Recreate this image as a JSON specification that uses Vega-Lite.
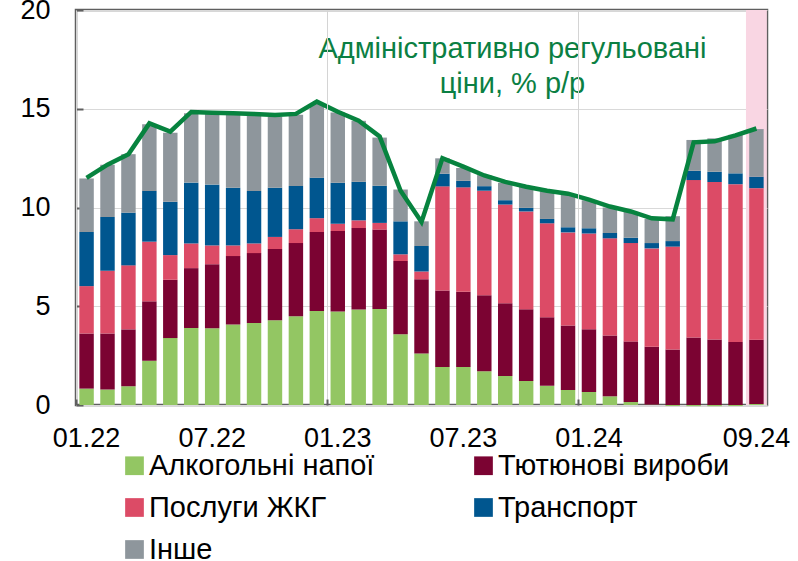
{
  "$schema": "https://vega.github.io/schema/vega-lite/v6.json",
  "width": 691,
  "height": 395,
  "autosize": {"type": "none"},
  "padding": {"left": 76, "top": 10, "right": 31, "bottom": 156},
  "background": "white",
  "config": {
    "view": {"stroke": "#5f5f5f", "strokeWidth": 2.5},
    "font": "Liberation Sans",
    "axis": {"labelFont": "Liberation Sans", "labelColor": "#000000"},
    "legend": {"labelFont": "Liberation Sans", "labelColor": "#000000"}
  },
  "datasets": {
    "main": [
      {"m": "01.22", "a": 0.83, "t": 2.79, "p": 2.40, "r": 2.74, "o": 2.71, "l": 11.5},
      {"m": "02.22", "a": 0.78, "t": 2.84, "p": 3.18, "r": 2.72, "o": 2.65, "l": 12.17},
      {"m": "03.22", "a": 0.95, "t": 2.88, "p": 3.24, "r": 2.67, "o": 2.96, "l": 12.7},
      {"m": "04.22", "a": 2.24, "t": 3.01, "p": 3.02, "r": 2.57, "o": 3.37, "l": 14.26},
      {"m": "05.22", "a": 3.39, "t": 2.95, "p": 1.25, "r": 2.70, "o": 3.50, "l": 13.84},
      {"m": "06.22", "a": 3.90, "t": 3.03, "p": 1.25, "r": 3.08, "o": 3.51, "l": 14.84},
      {"m": "07.22", "a": 3.88, "t": 3.25, "p": 0.95, "r": 3.08, "o": 3.61, "l": 14.8},
      {"m": "08.22", "a": 4.07, "t": 3.47, "p": 0.54, "r": 2.92, "o": 3.70, "l": 14.77},
      {"m": "09.22", "a": 4.15, "t": 3.54, "p": 0.49, "r": 2.66, "o": 3.83, "l": 14.74},
      {"m": "10.22", "a": 4.29, "t": 3.61, "p": 0.61, "r": 2.49, "o": 3.60, "l": 14.69},
      {"m": "11.22", "a": 4.49, "t": 3.71, "p": 0.70, "r": 2.19, "o": 3.60, "l": 14.74},
      {"m": "12.22", "a": 4.76, "t": 4.00, "p": 0.70, "r": 2.05, "o": 3.73, "l": 15.36},
      {"m": "01.23", "a": 4.73, "t": 4.08, "p": 0.37, "r": 2.07, "o": 3.56, "l": 14.85},
      {"m": "02.23", "a": 4.83, "t": 4.13, "p": 0.39, "r": 1.95, "o": 3.09, "l": 14.4},
      {"m": "03.23", "a": 4.86, "t": 4.02, "p": 0.34, "r": 1.88, "o": 2.44, "l": 13.6},
      {"m": "04.23", "a": 3.58, "t": 3.71, "p": 0.34, "r": 1.67, "o": 1.61, "l": 10.85},
      {"m": "05.23", "a": 2.61, "t": 3.76, "p": 0.39, "r": 1.29, "o": 1.25, "l": 9.27},
      {"m": "06.23", "a": 1.93, "t": 3.87, "p": 5.27, "r": 0.64, "o": 0.78, "l": 12.5},
      {"m": "07.23", "a": 1.93, "t": 3.81, "p": 5.28, "r": 0.33, "o": 0.65, "l": 12.07},
      {"m": "08.23", "a": 1.71, "t": 3.85, "p": 5.29, "r": 0.23, "o": 0.56, "l": 11.62},
      {"m": "09.23", "a": 1.47, "t": 3.68, "p": 5.00, "r": 0.22, "o": 0.88, "l": 11.3},
      {"m": "10.23", "a": 1.22, "t": 3.63, "p": 4.95, "r": 0.18, "o": 1.07, "l": 11.05},
      {"m": "11.23", "a": 0.97, "t": 3.47, "p": 4.76, "r": 0.22, "o": 1.41, "l": 10.85},
      {"m": "12.23", "a": 0.76, "t": 3.27, "p": 4.71, "r": 0.26, "o": 1.68, "l": 10.7},
      {"m": "01.24", "a": 0.66, "t": 3.17, "p": 4.85, "r": 0.27, "o": 1.42, "l": 10.4},
      {"m": "02.24", "a": 0.44, "t": 3.08, "p": 4.92, "r": 0.27, "o": 1.29, "l": 10.05},
      {"m": "03.24", "a": 0.15, "t": 3.07, "p": 4.98, "r": 0.27, "o": 1.31, "l": 9.8},
      {"m": "04.24", "a": 0.02, "t": 2.93, "p": 4.98, "r": 0.27, "o": 1.22, "l": 9.45},
      {"m": "05.24", "a": -0.05, "t": 2.81, "p": 5.21, "r": 0.28, "o": 1.26, "l": 9.4},
      {"m": "06.24", "a": -0.06, "t": 3.42, "p": 7.97, "r": 0.47, "o": 1.56, "l": 13.3},
      {"m": "07.24", "a": -0.06, "t": 3.32, "p": 7.97, "r": 0.52, "o": 1.69, "l": 13.35},
      {"m": "08.24", "a": -0.05, "t": 3.19, "p": 7.99, "r": 0.55, "o": 1.95, "l": 13.65},
      {"m": "09.24", "a": 0.05, "t": 3.25, "p": 7.68, "r": 0.58, "o": 2.41, "l": 14.0}
    ],
    "cats": [
      {"k": "a", "name": "Алкогольні напої", "ord": 1},
      {"k": "t", "name": "Тютюнові вироби", "ord": 2},
      {"k": "p", "name": "Послуги ЖКГ", "ord": 3},
      {"k": "r", "name": "Транспорт", "ord": 4},
      {"k": "o", "name": "Інше", "ord": 5}
    ]
  },
  "layer": [
    {
      "data": {"values": [{"m": "09.24"}]},
      "mark": {"type": "rect", "color": "#f9d6e3", "width": {"band": 1.45}},
      "encoding": {
        "x": {
          "field": "m", "type": "ordinal",
          "scale": {
            "domain": ["01.22","02.22","03.22","04.22","05.22","06.22","07.22","08.22","09.22","10.22","11.22","12.22","01.23","02.23","03.23","04.23","05.23","06.23","07.23","08.23","09.23","10.23","11.23","12.23","01.24","02.24","03.24","04.24","05.24","06.24","07.24","08.24","09.24"],
            "paddingInner": 0.31, "paddingOuter": 0.16
          },
          "axis": {
            "orient": "bottom",
            "values": ["01.22", "01.23", "01.24"],
            "bandPosition": -0.225,
            "grid": true, "gridColor": "#d4d4d4", "gridWidth": 1,
            "ticks": true, "tickSize": -6, "tickColor": "#5f5f5f", "tickWidth": 2,
            "labels": false, "domain": false, "title": null
          }
        },
        "y": {
          "datum": 0, "type": "quantitative", "scale": {"domain": [0, 20], "nice": false},
          "axis": {
            "values": [0, 5, 10, 15, 20],
            "grid": true, "gridColor": "#d9d9d9", "gridWidth": 1,
            "domain": false, "ticks": true, "tickSize": -7, "tickColor": "#5f5f5f", "tickWidth": 2,
            "labelFontSize": 27, "labelPadding": 33, "title": null
          }
        },
        "y2": {"datum": 20}
      }
    },
    {
      "data": {"name": "main"},
      "transform": [
        {"fold": ["a", "t", "p", "r", "o"], "as": ["k", "v"]},
        {"lookup": "k", "from": {"data": {"name": "cats"}, "key": "k", "fields": ["name", "ord"]}}
      ],
      "mark": {"type": "bar"},
      "encoding": {
        "x": {
          "field": "m", "type": "ordinal",
          "axis": {
            "orient": "bottom",
            "values": ["01.22", "07.22", "01.23", "07.23", "01.24", "09.24"],
            "ticks": false, "grid": false, "domain": false,
            "labelAngle": 0, "labelFontSize": 27, "labelPadding": 20, "title": null
          }
        },
        "y": {
          "field": "v", "type": "quantitative", "stack": "zero",
          "scale": {"domain": [0, 20], "nice": false},
          "axis": {
            "values": [0, 5, 10, 15, 20],
            "grid": true, "gridColor": "#d9d9d9", "gridWidth": 1,
            "domain": false, "ticks": true, "tickSize": -7, "tickColor": "#5f5f5f", "tickWidth": 2,
            "labelFontSize": 27, "labelPadding": 33, "title": null
          }
        },
        "color": {
          "field": "name", "type": "nominal",
          "scale": {
            "domain": ["Алкогольні напої", "Тютюнові вироби", "Послуги ЖКГ", "Транспорт", "Інше"],
            "range": ["#93c663", "#7b0332", "#dc4b66", "#00568f", "#8e969c"]
          },
          "legend": {
            "orient": "none", "legendX": 44, "legendY": 441,
            "direction": "horizontal",
            "columns": 2, "columnPadding": 94, "rowPadding": 12,
            "symbolType": "square", "symbolSize": 350, "symbolStrokeWidth": 0,
            "labelFontSize": 29, "labelOffset": 0, "labelLimit": 0, "title": null
          }
        },
        "order": {"field": "ord", "type": "quantitative"}
      }
    },
    {
      "data": {"name": "main"},
      "mark": {"type": "line", "color": "#07833f", "strokeWidth": 4.5},
      "encoding": {
        "x": {"field": "m", "type": "ordinal", "axis": null},
        "y": {
          "field": "l", "type": "quantitative",
          "axis": {
            "values": [0, 5, 10, 15, 20],
            "grid": true, "gridColor": "#d9d9d9", "gridWidth": 1,
            "domain": false, "ticks": true, "tickSize": -7, "tickColor": "#5f5f5f", "tickWidth": 2,
            "labelFontSize": 27, "labelPadding": 33, "title": null
          }
        }
      }
    },
    {
      "data": {"values": [{}]},
      "mark": {
        "type": "text",
        "text": ["Адміністративно регульовані", "ціни, % р/р"],
        "fontSize": 29, "color": "#0b7f43", "lineHeight": 35,
        "align": "center", "baseline": "middle"
      },
      "encoding": {
        "x": {"datum": "09.23", "type": "ordinal", "bandPosition": 1, "axis": null},
        "y": {
          "datum": 18.03, "type": "quantitative",
          "axis": {
            "values": [0, 5, 10, 15, 20],
            "grid": true, "gridColor": "#d9d9d9", "gridWidth": 1,
            "domain": false, "ticks": true, "tickSize": -7, "tickColor": "#5f5f5f", "tickWidth": 2,
            "labelFontSize": 27, "labelPadding": 33, "title": null
          }
        }
      }
    }
  ],
  "resolve": {"axis": {"x": "independent"}}
}
